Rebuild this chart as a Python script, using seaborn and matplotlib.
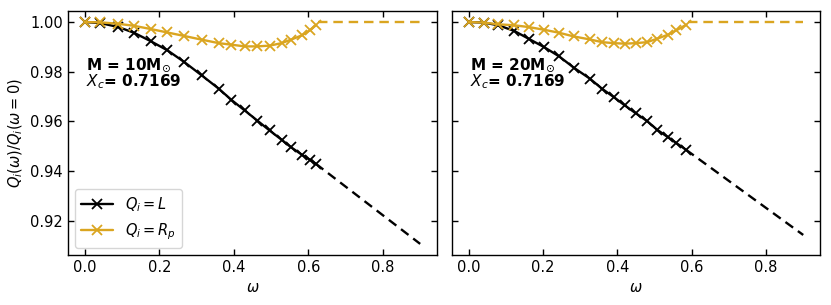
import numpy as np
import pandas as pd
import matplotlib
matplotlib.use("Agg")
import matplotlib.pyplot as plt
import seaborn as sns

# ---------------- data ----------------
omega_10 = [0.000, 0.042, 0.090, 0.132, 0.177, 0.222, 0.267, 0.314, 0.360, 0.393,
            0.429, 0.463, 0.496, 0.528, 0.553, 0.582, 0.604, 0.620]
L_10 = [1.0000, 0.9996, 0.9980, 0.9957, 0.9923, 0.9886, 0.9839, 0.9785, 0.9731, 0.9687,
        0.9644, 0.9603, 0.9563, 0.9526, 0.9496, 0.9466, 0.9445, 0.9429]
Rp_10 = [1.0000, 0.9999, 0.9993, 0.9985, 0.9972, 0.9958, 0.9944, 0.9929, 0.9915, 0.9909,
         0.9902, 0.9902, 0.9905, 0.9915, 0.9929, 0.9946, 0.9967, 0.9987]
omega_10_ext_L = [0.620, 0.900]
L_10_ext = [0.9429, 0.9106]
omega_10_ext_R = [0.625, 0.900]
Rp_10_ext = [1.0000, 1.0000]

omega_20 = [0.000, 0.040, 0.080, 0.123, 0.161, 0.203, 0.243, 0.283, 0.326, 0.359,
            0.391, 0.420, 0.449, 0.480, 0.507, 0.536, 0.559, 0.585]
L_20 = [1.0000, 0.9998, 0.9987, 0.9964, 0.9933, 0.9899, 0.9862, 0.9816, 0.9772, 0.9731,
        0.9697, 0.9664, 0.9633, 0.9601, 0.9566, 0.9536, 0.9512, 0.9485]
Rp_20 = [1.0000, 0.9998, 0.9991, 0.9987, 0.9980, 0.9969, 0.9957, 0.9942, 0.9930, 0.9919,
         0.9915, 0.9913, 0.9915, 0.9919, 0.9933, 0.9949, 0.9967, 0.9989]
omega_20_ext_L = [0.585, 0.900]
L_20_ext = [0.9485, 0.9142]
omega_20_ext_R = [0.590, 0.900]
Rp_20_ext = [1.0000, 1.0000]

panel_labels = [r"M = 10M$_{\odot}$", r"M = 20M$_{\odot}$"]
xc_label = r"$X_c$= 0.7169"
series_labels = [r"$Q_i = L$", r"$Q_i = R_p$"]
x_ticks = [0.0, 0.2, 0.4, 0.6, 0.8]
y_ticks = [0.92, 0.94, 0.96, 0.98, 1.00]

# ---------------- style ----------------
sns.set_theme(style="ticks", rc={
    "axes.edgecolor": "black",
    "axes.linewidth": 1.0,
    "xtick.color": "black",
    "ytick.color": "black",
    "text.color": "black",
    "axes.labelcolor": "black",
    "font.size": 10.5,
    "axes.labelsize": 10.5,
    "xtick.labelsize": 10.5,
    "ytick.labelsize": 10.5,
    "legend.fontsize": 10.5,
})
plt.rcParams["font.family"] = ["DejaVu Sans"]
plt.rcParams["mathtext.fontset"] = "dejavusans"

BLACK = "black"
GOLD = "#DAA520"

fig = plt.figure(figsize=(8.31, 3.05), dpi=100)
ax1 = fig.add_axes([0.0818, 0.164, 0.444, 0.800])
ax2 = fig.add_axes([0.5439, 0.164, 0.4428, 0.800], sharey=ax1)

panels = [
    (ax1, omega_10, L_10, Rp_10, omega_10_ext_L, L_10_ext, omega_10_ext_R, Rp_10_ext, panel_labels[0]),
    (ax2, omega_20, L_20, Rp_20, omega_20_ext_L, L_20_ext, omega_20_ext_R, Rp_20_ext, panel_labels[1]),
]

for ax, om, L, Rp, omL, Lext, omR, Rext, plab in panels:
    df = pd.DataFrame({"omega": om, "L": L, "Rp": Rp})
    sns.lineplot(data=df, x="omega", y="L", ax=ax, color=BLACK, lw=1.7,
                 marker="x", markersize=7.5, markeredgewidth=1.3,
                 markeredgecolor=BLACK, label=series_labels[0])
    sns.lineplot(data=df, x="omega", y="Rp", ax=ax, color=GOLD, lw=1.7,
                 marker="x", markersize=7.5, markeredgewidth=1.3,
                 markeredgecolor=GOLD, label=series_labels[1])
    sns.lineplot(x=omL, y=Lext, ax=ax, color=BLACK, lw=1.7, ls=(0, (4, 2.5)),
                 label="_nolegend_")
    sns.lineplot(x=omR, y=Rext, ax=ax, color=GOLD, lw=1.7, ls=(0, (4, 2.5)),
                 label="_nolegend_")
    ax.text(0.05, 0.78, plab, transform=ax.transAxes, fontsize=11, fontweight="bold",
            va="center", ha="left")
    ax.text(0.05, 0.71, xc_label, transform=ax.transAxes, fontsize=11, fontweight="bold",
            va="center", ha="left")
    ax.set_xticks(x_ticks)
    ax.set_xlabel(r"$\omega$")
    ax.tick_params(direction="in", top=True, right=True, length=4, width=1)
    ax.set_xlim(-0.045, 0.945)

ax1.set_yticks(y_ticks)
ax1.set_ylabel(r"$Q_i(\omega)/Q_i(\omega=0)$")
ax2.set_ylabel("")
ax2.tick_params(labelleft=False)
if ax2.get_legend() is not None:
    ax2.get_legend().remove()

handles, labels = ax1.get_legend_handles_labels()
keep = [(h, l) for h, l in zip(handles, labels) if not l.startswith("_")]
ax1.legend([h for h, _ in keep], [l for _, l in keep], loc="lower left",
           frameon=True, handlelength=2.2)

fig.savefig("out.png", dpi=100)
